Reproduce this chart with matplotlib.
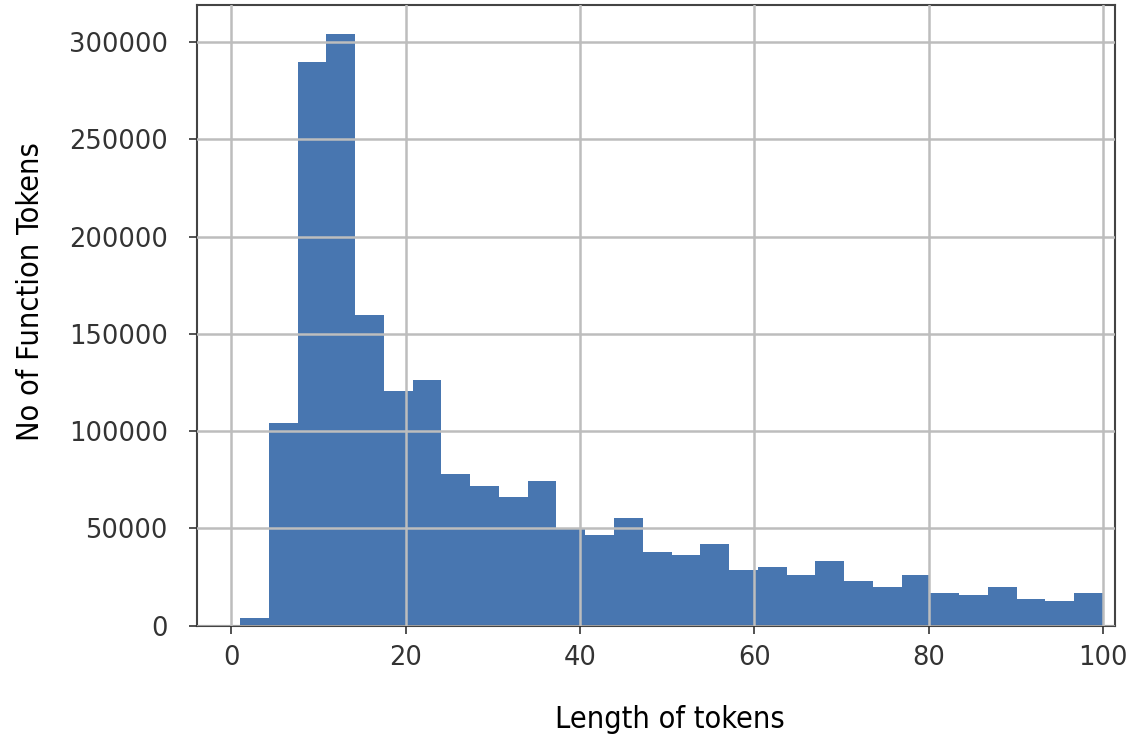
import numpy as np
import matplotlib
matplotlib.use("Agg")
import matplotlib.pyplot as plt

# histogram of token lengths: 30 bins between 1 and 100
bin_lo, bin_hi, n_bins = 1, 100, 30
counts = [4200, 104000, 290000, 304000, 160000, 120500, 126500, 78000,
          72000, 66000, 74500, 50500, 46800, 55500, 37800, 36200, 41800,
          28500, 30200, 26000, 33200, 23000, 20000, 26000, 17000, 15700,
          20000, 14000, 12600, 16900]
edges = np.linspace(bin_lo, bin_hi, n_bins + 1)

x_ticks = [0, 20, 40, 60, 80, 100]
y_ticks = [0, 50000, 100000, 150000, 200000, 250000, 300000]

plt.rcParams['font.family'] = ['DejaVu Sans']
fig = plt.figure(figsize=(11.45, 7.53), dpi=100)
ax = fig.add_axes([0.172, 0.169, 0.802, 0.824])

ax.hist(edges[:-1], bins=edges, weights=counts, color='#4876b0')
ax.set_axisbelow(False)
ax.grid(True, color='#bdbdbd', linewidth=1.8)

ax.set_xlim(-3.95, 101.4)
ax.set_ylim(0, 319000)
ax.set_xticks(x_ticks)
ax.set_yticks(y_ticks)
ax.tick_params(labelsize=18.5, colors='#333333', length=6, width=1.2)
ax.tick_params(axis='y', pad=15)
ax.tick_params(axis='x', pad=8)
for s in ax.spines.values():
    s.set_color('#444444')
    s.set_linewidth(1.5)

cond = ['Liberation Sans Narrow', 'DejaVu Sans']
ax.set_xlabel('Length of tokens', fontsize=22, family=cond, stretch='condensed')
ax.set_ylabel('No of Function Tokens', fontsize=22, family=cond, stretch='condensed')
ax.xaxis.set_label_coords(0.515, -0.128)
ax.yaxis.set_label_coords(-0.166, 0.538)

fig.savefig('out.png', dpi=100)
